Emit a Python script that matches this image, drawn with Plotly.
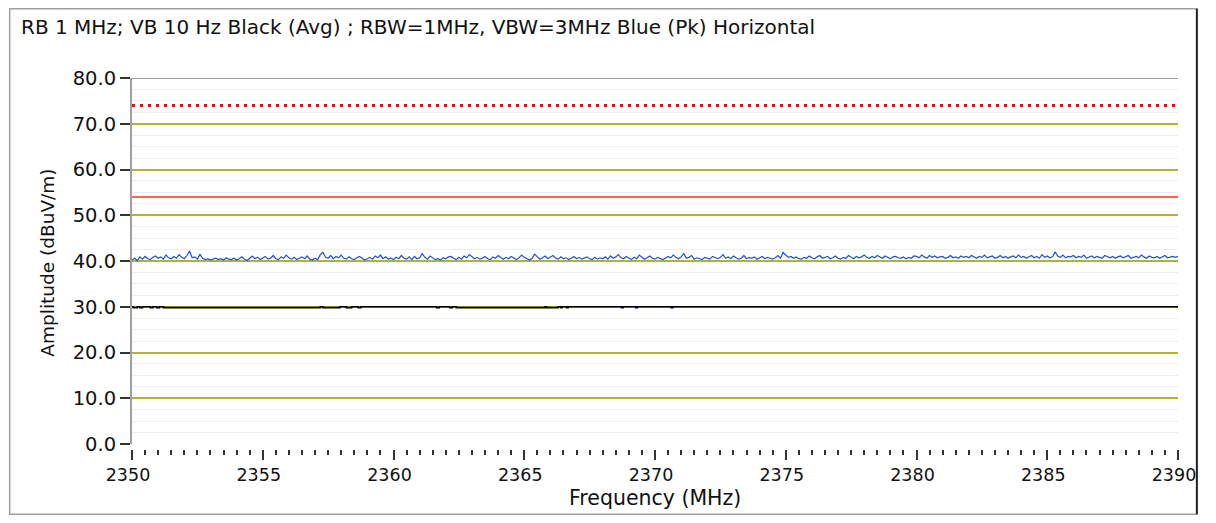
import numpy as np
import plotly.graph_objects as go

# ---- data ----
title_text = "RB 1 MHz; VB 10 Hz Black (Avg) ; RBW=1MHz, VBW=3MHz Blue (Pk) Horizontal"
f_start, f_stop = 2350.0, 2390.0

limit_pk = 74.0   # red dotted
limit_avg = 54.0  # red solid

# Peak trace (blue), 0.1 MHz spacing, dBuV/m
peak_values = [
    40.2, 40.6, 40.1, 40.9, 40.4, 41.0, 40.5, 40.3, 40.8, 41.1, 40.6, 40.9, 40.4, 41.3, 40.7, 40.5, 41.0, 40.6, 41.4, 40.8,
    40.5, 41.2, 42.2, 40.7, 40.9, 40.4, 41.5, 40.6, 40.3, 40.5, 40.2, 40.4, 40.6, 40.3, 40.5, 40.2, 40.7, 40.4, 40.3, 40.6,
    40.2, 40.5, 40.9, 40.4, 40.1, 40.6, 41.1, 40.5, 40.8, 40.3, 40.7, 41.0, 40.4, 40.6, 41.2, 40.5, 40.3, 40.9, 40.6, 41.3,
    40.7, 40.4, 40.8, 40.3, 40.6, 40.9, 40.5, 41.1, 40.4, 40.2, 40.6, 40.3, 41.4, 41.9, 40.8, 40.6, 41.2, 40.5, 41.0, 40.7,
    41.3, 40.6, 40.4, 40.9, 40.5, 40.3, 40.7, 41.0, 40.6, 40.2, 40.5, 40.8, 40.4, 41.1, 40.7, 41.3, 40.5, 40.9, 40.4, 40.6,
    40.3, 40.8, 40.5, 41.2, 40.6, 40.4, 40.9, 40.3, 41.0, 40.5, 40.7, 41.6, 40.8, 40.4, 41.1, 40.6, 40.3, 40.5, 40.2, 40.7,
    40.5, 40.9, 41.0, 40.6, 40.3, 40.8, 40.4, 41.1, 40.7, 41.4, 40.9, 40.5, 40.8, 40.4, 40.6, 41.0, 40.5, 40.3, 40.9, 40.6,
    41.2, 40.7, 40.4, 40.8, 40.5, 41.0, 40.6, 40.3, 40.7, 41.3, 40.8, 40.5, 40.2, 40.6, 41.5, 40.9, 40.4, 40.7, 41.1, 40.5,
    40.8, 41.2, 40.6, 40.4, 40.9, 40.5, 40.7, 40.3, 40.6, 41.0, 40.5, 40.8, 40.4, 40.6, 40.9, 40.5, 40.3, 40.8, 40.4, 40.7,
    40.5, 40.9, 40.4, 41.1, 40.6, 40.9, 41.4, 40.7, 40.5, 41.0, 40.6, 40.3, 40.8, 40.5, 41.3, 40.9, 40.4, 40.7, 41.1, 40.6,
    40.4, 40.8, 40.5, 40.3, 40.6, 41.0, 40.7, 41.3, 40.8, 40.5, 40.9, 41.6, 40.6, 40.8, 41.2, 40.4, 40.7, 40.5, 40.3, 40.8,
    40.6, 40.4, 41.0, 40.7, 40.5, 40.8, 41.4, 40.6, 40.9, 40.5, 41.1, 40.7, 40.4, 40.6, 41.2, 40.5, 40.8, 40.6, 40.9, 40.4,
    40.7, 41.0, 40.5, 40.8, 40.6, 40.4, 40.7, 41.2, 40.6, 41.9, 41.3, 40.8, 41.0, 40.6, 40.9, 40.5, 40.4, 40.8, 40.6, 41.1,
    40.7, 40.5, 40.9, 41.2, 40.6, 40.8, 41.0, 40.5, 40.7, 41.1, 40.6, 40.4, 40.8, 40.6, 41.2, 40.8, 40.5, 41.0, 40.7, 40.9,
    41.3, 40.8, 40.6, 41.0, 40.7, 41.2, 40.9, 40.6, 41.1, 40.8, 40.5, 40.9, 41.0, 40.7, 40.6, 40.9, 40.5, 40.8, 40.6, 41.1,
    41.0, 40.7, 41.3, 40.9, 40.6, 41.2, 40.8, 41.1, 40.7, 40.9, 41.0, 40.6, 40.8, 41.2, 40.7, 40.9, 40.6, 41.1, 40.8, 41.0,
    40.7, 41.2, 40.9, 40.6, 41.0, 40.8, 41.3, 40.7, 40.9, 41.1, 40.6, 40.8, 41.2, 40.7, 41.0, 40.6, 40.9, 41.1, 40.7, 41.3,
    40.8, 41.0, 40.6, 40.9, 41.2, 40.7, 41.0, 40.6, 41.4, 40.8, 41.1, 40.7, 40.9, 42.0, 41.1, 40.8, 41.3, 40.7, 41.0, 40.9,
    41.2, 40.7, 41.0, 40.8, 41.3, 40.6, 40.9, 41.1, 40.7, 41.0, 40.8, 40.6, 41.2, 40.9, 40.7, 41.0, 40.6, 40.9, 41.1, 40.7,
    40.9, 41.2, 40.6, 40.8, 41.0, 40.7, 41.3, 40.9, 40.6, 41.1, 40.8, 40.7, 41.0, 40.6, 40.9, 41.2, 40.7, 40.9, 41.0, 40.8,
    41.0,
]
peak_freq = np.linspace(f_start, f_stop, len(peak_values))

# Average trace (black), step breakpoints (MHz) and levels (dBuV/m)
avg_freq = [2350.0, 2350.05, 2350.2, 2350.3, 2350.4, 2350.7, 2350.8, 2350.95, 2351.05, 2351.2,
            2357.2, 2357.3, 2357.95, 2358.2, 2358.4, 2358.65, 2358.75, 2361.65, 2361.75,
            2362.15, 2362.25, 2362.4, 2365.8, 2365.85, 2366.3, 2366.4, 2366.45, 2366.62, 2366.68,
            2368.72, 2368.78, 2369.27, 2369.33, 2370.62, 2370.68, 2390.0]
avg_level = [30.0, 29.8, 30.0, 29.8, 30.0, 29.8, 30.0, 29.8, 30.0, 29.8,
             30.0, 29.8, 30.0, 29.8, 30.0, 29.8, 30.0, 29.8, 30.0,
             29.8, 30.0, 29.8, 30.0, 29.8, 30.0, 29.8, 30.0, 29.8, 30.0,
             29.8, 30.0, 29.8, 30.0, 29.8, 30.0, 30.0]

y_ticks = [0, 10, 20, 30, 40, 50, 60, 70, 80]
x_ticks = [2350, 2355, 2360, 2365, 2370, 2375, 2380, 2385, 2390]

# ---- styling ----
FONT = "DejaVu Sans"
OLIVE = "#b2b233"
GRAY = "#a0a0a0"
OFF = 8  # default page body margin

fig = go.Figure()
fig.add_trace(go.Scatter(x=[f_start, f_stop], y=[limit_pk, limit_pk], mode="lines",
                         line=dict(color="#ff0000", width=3, dash="3px,5px"), hoverinfo="skip"))
fig.add_trace(go.Scatter(x=[f_start, f_stop], y=[limit_avg, limit_avg], mode="lines",
                         line=dict(color="#fa6450", width=2), hoverinfo="skip"))
fig.add_trace(go.Scatter(x=avg_freq, y=avg_level, mode="lines", line_shape="hv",
                         line=dict(color="#000000", width=1.6)))
fig.add_trace(go.Scatter(x=peak_freq, y=peak_values, mode="lines",
                         line=dict(color="#1f4fe0", width=1.2)))

W, H = 1216 - 2 * OFF, 523 - 2 * OFF
L, R, T, B = 132 - OFF, 1186 - OFF, 78 - OFF, 449 - OFF
pw, ph = R - L, B - T

def px(x):  # reference page x -> paper fraction
    return (x - OFF - L) / pw

def py(y):  # reference page y -> paper fraction
    return (B - (y - OFF)) / ph

def fx(x):  # figure pixel x -> paper fraction
    return (x - L) / pw

def fy(y):
    return (B - y) / ph

fig.update_layout(
    width=W, height=H,
    margin=dict(l=L, r=W - R, t=T, b=H - B, pad=0),
    paper_bgcolor="white", plot_bgcolor="white",
    showlegend=False,
    font=dict(family=FONT, size=18, color="#111"),
    xaxis=dict(range=[f_start, f_stop], tickvals=x_ticks, ticks="outside", ticklen=10, tickwidth=2,
               tickcolor="#333", showgrid=False, showline=False, zeroline=False,
               anchor="free", position=0, ticklabelshift=-4,
               minor=dict(dtick=0.5, ticks="outside", ticklen=5, tickwidth=2, tickcolor="#333", showgrid=False),
               tickfont=dict(size=17.5, family=FONT)),
    yaxis=dict(range=[0, 80], domain=[5 / ph, 1], tickvals=y_ticks, tickformat=".1f",
               ticks="outside", ticklen=10, tickwidth=2, tickcolor="#333",
               showline=True, linecolor=GRAY, linewidth=2,
               showgrid=True, gridcolor=OLIVE, gridwidth=2,
               zeroline=True, zerolinecolor="white", zerolinewidth=2,
               minor=dict(dtick=2.5, showgrid=True, gridcolor="#eeeeee", gridwidth=1, ticks=""),
               tickfont=dict(size=19.5, family=FONT)),
    shapes=[
        dict(type="line", xref="paper", yref="y", x0=0, x1=1, y0=80, y1=80,
             line=dict(color=GRAY, width=2)),
        dict(type="rect", xref="paper", yref="paper", x0=fx(0.75), x1=px(1205), y0=fy(H - 0.75), y1=fy(0.75),
             line=dict(color=GRAY, width=1.5)),
        dict(type="line", xref="paper", yref="paper", x0=px(1205), x1=px(1205), y0=fy(H - 0.75), y1=fy(0.75),
             line=dict(color="#222", width=2)),
    ],
    annotations=[
        dict(text=title_text, xref="paper", yref="paper", x=px(18), y=py(27), xanchor="left",
             yanchor="middle", showarrow=False, font=dict(size=20, family=FONT)),
        dict(text="Frequency (MHz)", xref="paper", yref="paper", x=px(659), y=py(498), xanchor="center",
             yanchor="middle", showarrow=False, font=dict(size=20.5, family=FONT)),
        dict(text="Amplitude (dBuV/m)", xref="paper", yref="paper", x=px(46), y=py(263), xanchor="center",
             yanchor="middle", showarrow=False, textangle=-90, font=dict(size=18.5, family=FONT)),
    ],
)

fig.write_html("out.html", config={"displayModeBar": False})
